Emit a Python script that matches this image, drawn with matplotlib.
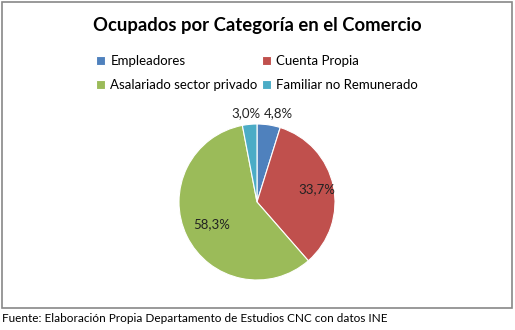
import matplotlib.pyplot as plt
from matplotlib.patches import Rectangle
import numpy as np

categorias = ['Empleadores', 'Cuenta Propia', 'Asalariado sector privado', 'Familiar no Remunerado']
valores = [4.8, 33.7, 58.3, 3.0]
colores = ['#4F81BD', '#C0504D', '#9BBB59', '#4BACC6']
# posicion de cada etiqueta (estilo "mejor ajuste" de Excel): distancia radial y giro en grados
dist_etiqueta = [1.175, 0.79, 0.65, 1.15]
giro_etiqueta = [-5.0, 0.0, 0.0, 1.6]

titulo = 'Ocupados por Categoría en el Comercio'
fuente = 'Fuente: Elaboración Propia Departamento de Estudios CNC con datos INE'

plt.rcParams['font.family'] = ['Lato', 'DejaVu Sans']

W, H = 515, 330
fig = plt.figure(figsize=(W / 100, H / 100), dpi=100)

# marco del grafico
fig.patches.append(Rectangle((2 / W, 1 - 308 / H), 510 / W, 306 / H, transform=fig.transFigure,
                             fill=False, edgecolor='#888888', linewidth=1.2))

fig.text(257 / W, 1 - 25 / H, titulo, ha='center', va='center', fontsize=13.3, fontweight='bold')
fig.text(2 / W, 1 - 319 / H, fuente, ha='left', va='center', fontsize=8.5)

# pie
cx, cy, r = 257, 202, 78
ax = fig.add_axes([(cx - r) / W, 1 - (cy + r) / H, 2 * r / W, 2 * r / H])
wedges, _ = ax.pie(valores, colors=colores, startangle=90, counterclock=False,
                   wedgeprops=dict(edgecolor='white', linewidth=0.8))
ax.set_xlim(-1, 1)
ax.set_ylim(-1, 1)
ax.set_aspect('equal')
ax.axis('off')

for w, v, d, g in zip(wedges, valores, dist_etiqueta, giro_etiqueta):
    ang = np.deg2rad((w.theta1 + w.theta2) / 2 + g)
    ax.text(d * np.cos(ang), d * np.sin(ang), ('%.1f%%' % v).replace('.', ','),
            ha='center', va='center', fontsize=9.5, color='#222222')

# leyenda (ordenada para que se llene por filas)
orden = [0, 2, 1, 3]
leg = fig.legend([wedges[i] for i in orden], [categorias[i] for i in orden], ncol=2,
                 loc='upper left', bbox_to_anchor=(84 / W, 1 - 43 / H),
                 frameon=False, fontsize=9.5, handlelength=0.7, handleheight=0.7,
                 handletextpad=0.4, columnspacing=0.3, labelspacing=0.95)

fig.savefig('out.png', dpi=100)
